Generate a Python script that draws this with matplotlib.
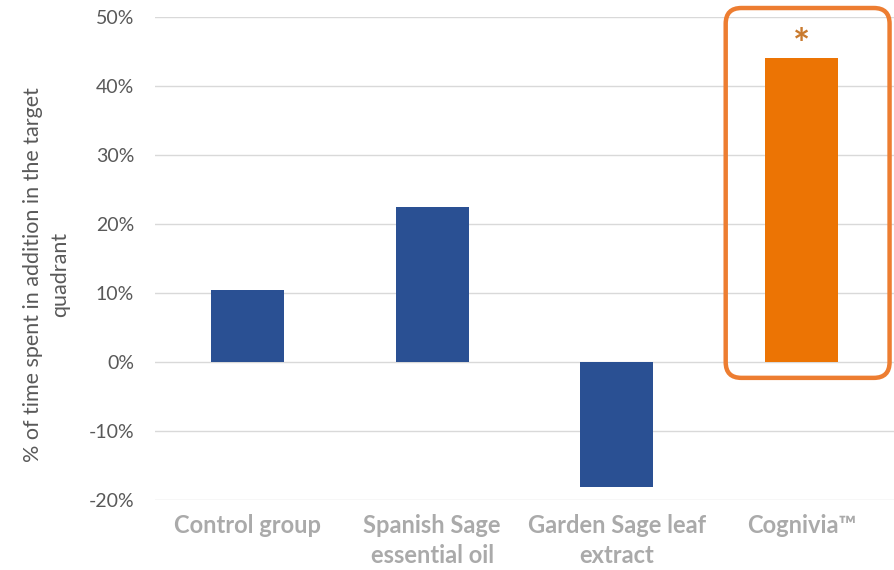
import matplotlib
matplotlib.use('Agg')
import matplotlib.pyplot as plt
from matplotlib.patches import FancyBboxPatch
from matplotlib.ticker import FuncFormatter, MultipleLocator

plt.rcParams['font.family'] = ['Lato', 'DejaVu Sans']

# 数据
categories = ['Control group', 'Spanish Sage\nessential oil', 'Garden Sage leaf\nextract', 'Cognivia™']
values = [0.104, 0.225, -0.181, 0.441]
colors = ['#2A5093', '#2A5093', '#2A5093', '#EC7404']
highlight = 3

fig = plt.figure(figsize=(8.94, 5.7), dpi=100)
ax = fig.add_axes([0.1734, 0.1228, 0.8266, 0.8474])

x = range(len(categories))
ax.bar(x, values, width=0.395, color=colors, zorder=3)

ax.set_xlim(-0.5, len(categories) - 0.5)
ax.set_ylim(-0.2, 0.5)
ax.yaxis.set_major_locator(MultipleLocator(0.1))
ax.yaxis.set_major_formatter(FuncFormatter(lambda v, p: '{:.0f}%'.format(v * 100)))
ax.grid(axis='y', color='#D9D9D9', linewidth=1, zorder=0)

for s in ax.spines.values():
    s.set_visible(False)
ax.tick_params(axis='both', length=0)
ax.tick_params(axis='y', labelsize=14, labelcolor='#595959', pad=15)
ax.set_xticks(list(x))
ax.set_xticklabels(categories, fontsize=17, fontweight='bold', color='#AAAAAA', linespacing=1.4)
ax.tick_params(axis='x', pad=10)

# 纵坐标标题
fig.text(0.052, 0.518, '% of time spent in addition in the target\nquadrant',
         rotation=90, ha='center', va='center', multialignment='center',
         fontsize=15.5, color='#595959', linespacing=1.45)

# 突出显示框和星号
box = FancyBboxPatch((highlight - 0.411, -0.023), 0.887, 0.536,
                     boxstyle='round,pad=0,rounding_size=0.085', mutation_aspect=0.268,
                     facecolor='none', edgecolor='#ED7D31', linewidth=3.2,
                     clip_on=False, zorder=4)
ax.add_patch(box)
ax.text(highlight, values[highlight] - 0.011, '*', ha='center', va='bottom',
        fontsize=29, fontweight='bold', color='#C97A2E')

plt.savefig('out.png', dpi=100)
